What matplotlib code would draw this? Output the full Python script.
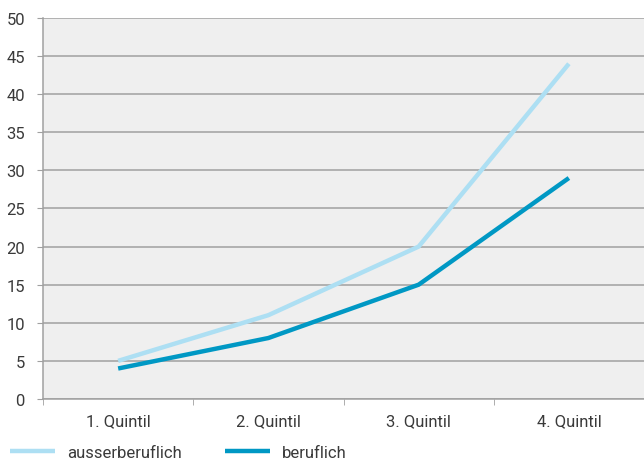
import matplotlib
matplotlib.use("Agg")
import matplotlib.pyplot as plt

categories = ["1. Quintil", "2. Quintil", "3. Quintil", "4. Quintil"]
ausserberuflich = [5, 11, 20, 44]
beruflich = [4, 8, 15, 29]
y_ticks = [0, 5, 10, 15, 20, 25, 30, 35, 40, 45, 50]

plt.rcParams["font.family"] = ["Roboto", "DejaVu Sans"]

fig = plt.figure(figsize=(6.44, 4.64), dpi=100)
ax = fig.add_axes([0.0668, 0.138, 0.9332, 0.821])
ax.set_facecolor("#efefef")

x = range(len(categories))
ax.plot(x, ausserberuflich, color="#addff3", lw=3.2, label="ausserberuflich",
        solid_capstyle="butt")
ax.plot(x, beruflich, color="#0098c4", lw=3.2, label="beruflich",
        solid_capstyle="butt")

ax.set_xlim(-0.5, len(categories) - 0.5)
ax.set_ylim(0, 50)
ax.set_yticks(y_ticks)
ax.set_xticks(list(x))
ax.set_xticklabels(categories)
ax.set_xticks([i - 0.5 for i in range(len(categories) + 1)], minor=True)

ax.grid(axis="y", color="#a0a0a0", lw=1.1)
ax.set_axisbelow(True)
for s in ["top", "right"]:
    ax.spines[s].set_visible(False)
for s in ["left", "bottom"]:
    ax.spines[s].set_color("#a0a0a0")
    ax.spines[s].set_linewidth(1.1)

ax.tick_params(axis="y", length=4, color="#a0a0a0", labelsize=12, labelcolor="#3a3a3a", pad=9)
ax.tick_params(axis="x", which="major", length=0, labelsize=12, labelcolor="#3a3a3a", pad=10)
ax.tick_params(axis="x", which="minor", length=4, color="#a0a0a0")

fig.legend(loc="lower left", bbox_to_anchor=(0.0, -0.015), ncol=2, frameon=False,
           fontsize=12, handlelength=2.7, handletextpad=0.7, columnspacing=2.6,
           labelcolor="#3a3a3a", borderaxespad=0.2)

fig.savefig("out.png", dpi=100)
